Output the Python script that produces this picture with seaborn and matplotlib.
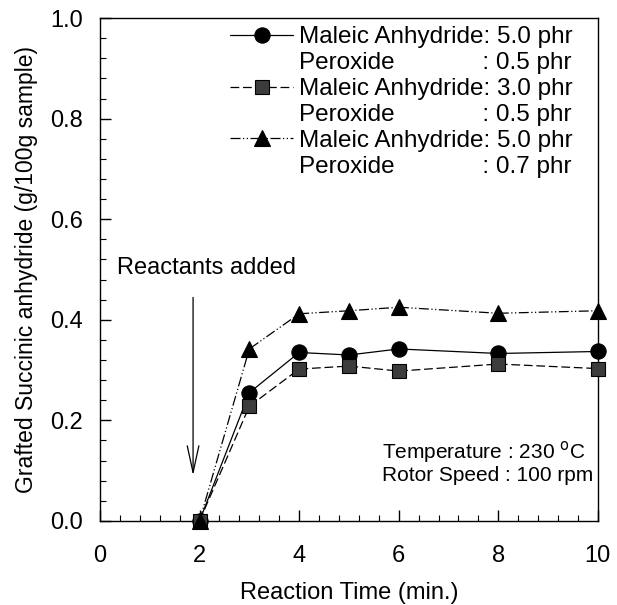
import matplotlib
matplotlib.use("Agg")
import matplotlib.pyplot as plt
from matplotlib.ticker import MultipleLocator, FormatStrFormatter
from matplotlib.lines import Line2D
import seaborn as sns
import pandas as pd

sns.set_theme(style="ticks")
plt.rcParams["font.family"] = ["Liberation Sans", "DejaVu Sans"]
plt.rcParams["text.color"] = "black"
plt.rcParams["axes.labelcolor"] = "black"
plt.rcParams["xtick.color"] = "black"
plt.rcParams["ytick.color"] = "black"

time_min = [2, 3, 4, 5, 6, 8, 10]
ma50_px05 = [0.0, 0.255, 0.335, 0.330, 0.342, 0.333, 0.337]
ma30_px05 = [0.0, 0.228, 0.302, 0.308, 0.298, 0.312, 0.303]
ma50_px07 = [0.0, 0.342, 0.412, 0.418, 0.425, 0.413, 0.418]

anhydride_labels = ["Maleic Anhydride: 5.0 phr",
                    "Maleic Anhydride: 3.0 phr",
                    "Maleic Anhydride: 5.0 phr"]
peroxide_labels = ["Peroxide             : 0.5 phr",
                   "Peroxide             : 0.5 phr",
                   "Peroxide             : 0.7 phr"]
series = [ma50_px05, ma30_px05, ma50_px07]
markers = ["o", "s", "^"]
marker_sizes = [11, 10, 11]
face_colors = ["black", "#3c3c3c", "black"]
dashes = ["-", (0, (7, 3)), (0, (8, 2, 1, 2, 1, 2))]

fig = plt.figure(figsize=(6.17, 6.05), dpi=100)
ax = fig.add_axes([0.162, 0.139, 0.807, 0.831])

for vals, lab, mk, ms, fc, ls in zip(series, anhydride_labels, markers,
                                     marker_sizes, face_colors, dashes):
    df = pd.DataFrame({"t": time_min, "v": vals})
    sns.lineplot(data=df, x="t", y="v", ax=ax, color="black", lw=0.9,
                 linestyle=ls, marker=mk, markersize=ms, markerfacecolor=fc,
                 markeredgecolor="black", markeredgewidth=0.8, label=lab,
                 clip_on=False, zorder=3)

ax.set_xlim(0, 10)
ax.set_ylim(0, 1.0)
ax.xaxis.set_major_locator(MultipleLocator(2))
ax.xaxis.set_minor_locator(MultipleLocator(0.4))
ax.yaxis.set_major_locator(MultipleLocator(0.2))
ax.yaxis.set_minor_locator(MultipleLocator(0.04))
ax.yaxis.set_major_formatter(FormatStrFormatter("%.1f"))
ax.tick_params(axis="both", which="major", direction="in", length=8, width=1,
               labelsize=17, top=False, right=False)
ax.tick_params(axis="x", which="major", pad=17)
ax.tick_params(axis="y", which="major", pad=12)
ax.tick_params(axis="both", which="minor", direction="in", length=4, width=0.8,
               top=False, right=False)
for s in ax.spines.values():
    s.set_linewidth(1.0)
    s.set_color("black")

ax.set_xlabel("Reaction Time (min.)", fontsize=17, labelpad=11)
ax.set_ylabel("Grafted Succinic anhydride (g/100g sample)", fontsize=16.5,
              labelpad=9)

ax.annotate("", xy=(1.87, 0.085), xytext=(1.87, 0.45),
            arrowprops=dict(arrowstyle="->,head_length=1.6,head_width=0.35",
                            color="black", lw=0.9))
ax.text(0.34, 0.503, "Reactants added", fontsize=17, va="center", ha="left")
ax.text(5.66, 0.137, "Temperature : 230 $^{\\mathrm{o}}$C", fontsize=15,
        va="center")
ax.text(5.66, 0.091, "Rotor Speed : 100 rpm", fontsize=15, va="center")

# two-line entries: the marker sits on the first line, the second has no handle
handles, _ = ax.get_legend_handles_labels()
blank = Line2D([], [], lw=0, alpha=0)
leg_handles, leg_labels = [], []
for h, a, p in zip(handles, anhydride_labels, peroxide_labels):
    leg_handles += [h, blank]
    leg_labels += [a, p]
ax.legend(leg_handles, leg_labels, loc="upper right",
          bbox_to_anchor=(0.95, 0.984), frameon=False,
          fontsize=17.5, handlelength=2.6, handletextpad=0.25, labelspacing=0.16,
          borderaxespad=0.0, borderpad=0.0)

fig.savefig("out.png", dpi=100)
